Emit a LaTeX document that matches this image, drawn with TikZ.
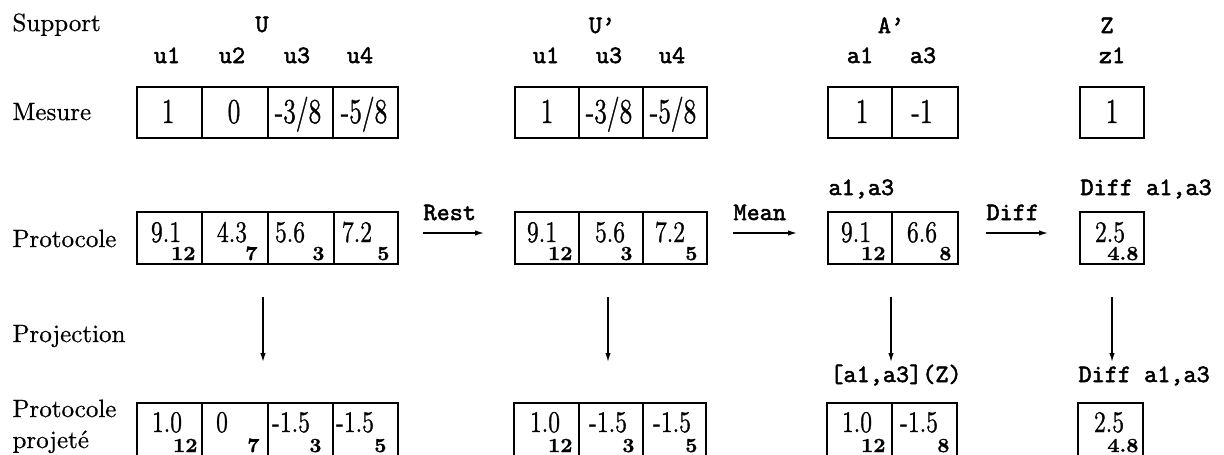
\documentclass[tikz,border=0pt]{standalone}
\usepackage{fontspec}
\usepackage{graphicx}
\usetikzlibrary{arrows.meta}
\setmainfont{Latin Modern Roman}[FakeBold=0.6]
\newfontfamily\ttb{Latin Modern Mono}[FakeBold=2]
\newfontfamily\numf{Latin Modern Roman}[FakeBold=1.2]
% narrow setting of the cell values
\newcommand\nar[1]{\scalebox{0.8}[1]{#1}}
\newcommand\narm[1]{\scalebox{0.74}[1]{#1}}
% one table cell: name, left, right, top, bottom
\newcommand\mkcell[5]{\node[cbox, minimum width={(#3-#2)*0.4pt}, minimum height={(#5-#4)*0.4pt}] (#1) at ({(#2+#3)/2},{(#4+#5)/2}) {};}
\tikzset{
  cbox/.style={draw, line width=0.85pt, inner sep=0pt, outer sep=0pt},
  lbl/.style={font=\fontsize{10}{12}\selectfont, inner sep=0pt, anchor=base west},
  ttl/.style={font=\ttb\fontsize{10}{12}\selectfont, inner sep=0pt, anchor=base},
  ttw/.style={ttl, anchor=base west},
  mval/.style={font=\numf\fontsize{14}{16}\selectfont, inner sep=0pt, anchor=base},
  pval/.style={font=\numf\fontsize{12}{14}\selectfont, inner sep=0pt, anchor=base},
  sval/.style={font=\fontsize{8}{9}\selectfont\bfseries, inner sep=0pt, anchor=base east},
  arr/.style={line width=0.55pt, -{Latex[length=3.6pt,width=2.2pt]}},
}
\begin{document}
\begin{tikzpicture}[x=0.4pt, y=-0.4pt]
\fill[white] (0,0) rectangle (1224,454);
\useasboundingbox (0,0) rectangle (1224,454);

% row labels
\node[lbl] (lSupport) at (12,31) {Support};
\node[lbl] (lMesure) at (12,120) {Mesure};
\node[lbl] (lProt) at (12,247) {Protocole};
\node[lbl] (lProj) at (12,342) {Projection};
\node[lbl] (lPPa) at (12,417) {Protocole};
\node[lbl] (lPPb) at (12,448) {projet\'e};

% supports and their elements
\node[ttl] (hU) at (262,32) {U};
\node[ttl] (hUu1) at (167,63) {u1};
\node[ttl] (hUu2) at (232,63) {u2};
\node[ttl] (hUu3) at (297,63) {u3};
\node[ttl] (hUu4) at (360,63) {u4};
\node[ttl] (hUp) at (602,33) {U’};
\node[ttl] (hUpu1) at (546,63) {u1};
\node[ttl] (hUpu3) at (609,63) {u3};
\node[ttl] (hUpu4) at (672,63) {u4};
\node[ttl] (hA) at (891,33) {A’};
\node[ttl] (hAa1) at (860,63) {a1};
\node[ttl] (hAa3) at (923,63) {a3};
\node[ttl] (hZ) at (1107,33) {Z};
\node[ttl] (hZz1) at (1112,63) {z1};

% Mesure row
\mkcell{mU1}{137}{202}{87}{138}
\mkcell{mU2}{202}{268}{87}{138}
\mkcell{mU3}{268}{333}{87}{138}
\mkcell{mU4}{333}{398}{87}{138}
\mkcell{mUp1}{515}{579}{87}{138}
\mkcell{mUp2}{579}{643}{87}{138}
\mkcell{mUp3}{643}{707}{87}{138}
\mkcell{mA1}{828}{892}{87}{138}
\mkcell{mA2}{892}{958}{87}{138}
\mkcell{mZ}{1080}{1144}{87}{138}
\node[mval] at (168,123) {\narm{1}};
\node[mval] at (234,123) {\narm{0}};
\node[mval] at (298,123) {\narm{-3/8}};
\node[mval] at (364,123) {\narm{-5/8}};
\node[mval] at (547,123) {\narm{1}};
\node[mval] at (609,123) {\narm{-3/8}};
\node[mval] at (673,123) {\narm{-5/8}};
\node[mval] at (862,123) {\narm{1}};
\node[mval] at (922,123) {\narm{-1}};
\node[mval] at (1112,123) {\narm{1}};

% Protocole row
\mkcell{pU1}{137}{202}{212}{264}
\mkcell{pU2}{202}{268}{212}{264}
\mkcell{pU3}{268}{334}{212}{264}
\mkcell{pU4}{334}{398}{212}{264}
\mkcell{pUp1}{515}{579}{212}{264}
\mkcell{pUp2}{579}{643}{212}{264}
\mkcell{pUp3}{643}{707}{212}{264}
\mkcell{pA1}{828}{892}{212}{264}
\mkcell{pA2}{892}{958}{212}{264}
\mkcell{pZ}{1080}{1144}{212}{264}
\node[pval] at (166,242) {\nar{9.1}};   \node[sval] at (196,260) {12};
\node[pval] at (232,242) {\nar{4.3}};   \node[sval] at (258,260) {7};
\node[pval] at (290,242) {\nar{5.6}};   \node[sval] at (325,260) {3};
\node[pval] at (357,242) {\nar{7.2}};   \node[sval] at (390,260) {5};
\node[pval] at (542,242) {\nar{9.1}};   \node[sval] at (573,260) {12};
\node[pval] at (610,242) {\nar{5.6}};   \node[sval] at (633,260) {3};
\node[pval] at (670,242) {\nar{7.2}};   \node[sval] at (698,260) {5};
\node[pval] at (856,242) {\nar{9.1}};   \node[sval] at (886,260) {12};
\node[pval] at (922,242) {\nar{6.6}};   \node[sval] at (952,260) {8};
\node[pval] at (1110,242) {\nar{2.5}};  \node[sval] at (1139,260) {4.8};

% operations between the supports
\node[ttw] (tRest) at (423,220) {Rest};
\node[ttw] (tMean) at (733,220) {Mean};
\node[ttw] (tDiff) at (986,220) {Diff};
\node[ttw] (tA) at (828,195) {a1,a3};
\node[ttw] (tZ) at (1080,195) {Diff a1,a3};
\draw[arr, shorten <=10pt, shorten >=12.4pt] ([yshift=2pt]pU4.east) -- ([yshift=2pt]pUp1.west);
\draw[arr, shorten <=10.4pt, shorten >=12.4pt] ([yshift=2pt]pUp3.east) -- ([yshift=2pt]pA1.west);
\draw[arr, shorten <=11.2pt, shorten >=12.8pt] ([yshift=2pt]pA2.east) -- ([yshift=2pt]pZ.west);

% Protocole projete row
\mkcell{bU1}{137}{202}{403}{462}
\mkcell{bU2}{202}{268}{403}{462}
\mkcell{bU3}{268}{333}{403}{462}
\mkcell{bU4}{333}{398}{403}{462}
\mkcell{bUp1}{514}{579}{403}{462}
\mkcell{bUp2}{579}{643}{403}{462}
\mkcell{bUp3}{643}{706}{403}{462}
\mkcell{bA1}{827}{892}{403}{462}
\mkcell{bA2}{892}{957}{403}{462}
\mkcell{bZ}{1078}{1143}{403}{462}
\node[pval] at (167,432) {\nar{1.0}};   \node[sval] at (198,452) {12};
\node[pval] at (222,432) {\nar{0}};     \node[sval] at (260,452) {7};
\node[pval] at (291,432) {\nar{-1.5}};  \node[sval] at (322,452) {3};
\node[pval] at (355,432) {\nar{-1.5}};  \node[sval] at (387,452) {5};
\node[pval] at (545,432) {\nar{1.0}};   \node[sval] at (573,452) {12};
\node[pval] at (608,432) {\nar{-1.5}};  \node[sval] at (635,452) {3};
\node[pval] at (672,432) {\nar{-1.5}};  \node[sval] at (698,452) {5};
\node[pval] at (857,432) {\nar{1.0}};   \node[sval] at (886,452) {12};
\node[pval] at (919,432) {\nar{-1.5}};  \node[sval] at (950,452) {8};
\node[pval] at (1109,432) {\nar{2.5}};  \node[sval] at (1139,452) {4.8};
\node[ttl] (tAZ) at (896,382) {[a1,a3](Z)};
\node[ttw] (tZZ) at (1078,382) {Diff a1,a3};

% projections
\draw[arr, shorten <=13.2pt, shorten >=16.4pt] ([xshift=-2pt]pU2.south east) -- ([xshift=-2pt]bU2.north east);
\draw[arr, shorten <=13.2pt, shorten >=16.4pt] ([xshift=-1.2pt]pUp2.south) -- ([xshift=-1.2pt]bUp2.north);
\draw[arr, shorten <=13.2pt, shorten >=16.4pt] ([xshift=-0.4pt]pA1.south east) -- ([xshift=-0.4pt]bA1.north east);
\draw[arr, shorten <=13.2pt, shorten >=16.4pt] (pZ.south) -- (pZ.south |- bZ.north);
\end{tikzpicture}
\end{document}
